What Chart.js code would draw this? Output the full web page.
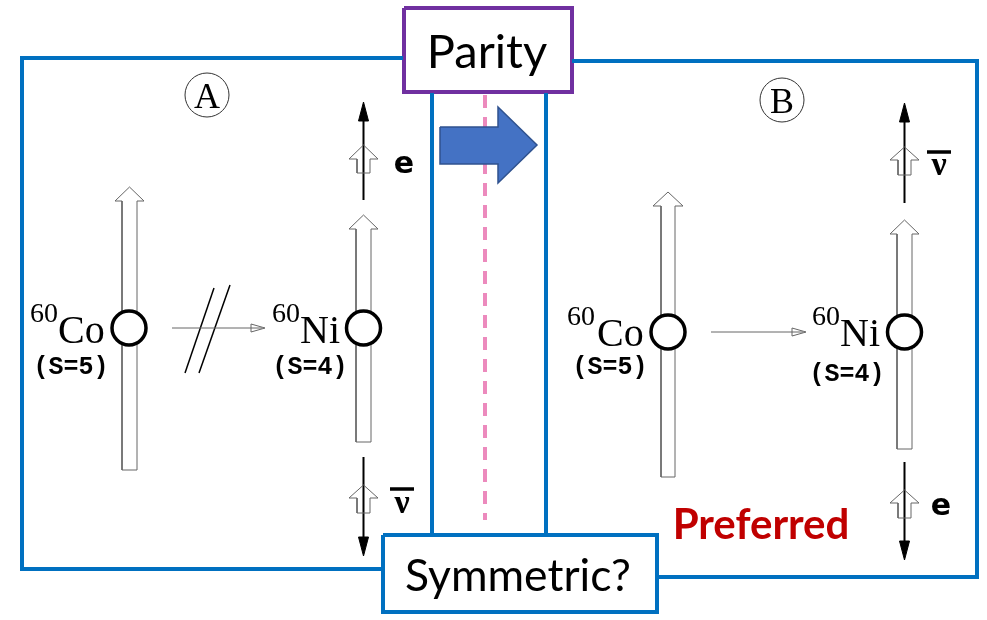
<!DOCTYPE html>
<html>
<head>
<meta charset="utf-8">
<script src="https://cdn.jsdelivr.net/npm/chart.js@4.4.1/dist/chart.umd.min.js"></script>
<style>
  html, body { margin: 0; padding: 0; background: #fff; }
  #wrap { width: 987px; height: 620px; position: relative; }
</style>
</head>
<body>
<div id="wrap"><canvas id="diagram"></canvas></div>
<script>
// Frame lines (x, y in picture units, y grows downward)
const leftFrame = [[403, 58], [22, 58], [22, 569], [383, 569]];
const rightFrame = [[572, 61], [977, 61], [977, 577], [657, 577]];
const stripLeft = [[432, 93], [432, 535]];
const stripRight = [[546, 93], [546, 535]];
const parityBox = [[404, 8], [572, 8], [572, 92], [404, 92], [404, 8]];
const symmetricBox = [[383, 535], [657, 535], [657, 612], [383, 612], [383, 535]];
const mirrorLine = [[485, 95], [485, 520]];
const bigArrow = [[440, 127], [498, 127], [498, 107], [537, 145], [498, 183], [498, 164], [440, 164], [440, 127]];

// Hollow spin arrows
const spinCoA = [[122, 470], [137, 470], [137, 201], [144, 201], [129.5, 187], [115, 201], [122, 201], [122, 470]];
const spinNiA = [[356, 442], [371, 442], [371, 229], [378, 229], [363.5, 215], [349, 229], [356, 229], [356, 442]];
const spinCoB = [[661, 477], [675, 477], [675, 206], [683, 206], [668, 192], [653, 206], [661, 206], [661, 477]];
const spinNiB = [[897, 449], [912, 449], [912, 234], [919, 234], [904.5, 220], [890, 234], [897, 234], [897, 449]];
const smallEA = [[357, 173], [370, 173], [370, 159], [378, 159], [363.5, 145], [349, 159], [357, 159], [357, 173]];
const smallNuA = [[357, 513], [370, 513], [370, 498], [378, 498], [363.5, 485], [349, 498], [357, 498], [357, 513]];
const smallNuB = [[898, 175], [911, 175], [911, 160], [919, 160], [904.5, 147], [890, 160], [898, 160], [898, 175]];
const smallEB = [[898, 518], [911, 518], [911, 503], [919, 503], [904.5, 490], [890, 503], [898, 503], [898, 518]];

// Momentum lines and solid heads
const momUpA = [[363.5, 200], [363.5, 115]];
const headUpA = [[358.5, 121], [363.5, 102], [368.5, 121], [358.5, 121]];
const momDownA = [[363.5, 457], [363.5, 542]];
const headDownA = [[358.5, 537], [363.5, 556], [368.5, 537], [358.5, 537]];
const momUpB = [[904.5, 203], [904.5, 116]];
const headUpB = [[899.5, 122], [904.5, 103], [909.5, 122], [899.5, 122]];
const momDownB = [[904.5, 462], [904.5, 546]];
const headDownB = [[899.5, 541], [904.5, 560], [909.5, 541], [899.5, 541]];

// Decay arrows
const decayA = [[172, 328], [262, 328]];
const decayHeadA = [[251, 324], [265, 328], [251, 332], [251, 324]];
const decayB = [[711, 332], [803, 332]];
const decayHeadB = [[792, 328], [806, 332], [792, 336], [792, 328]];
const slash1 = [[185, 373], [214, 288]];
const slash2 = [[199, 373], [230, 285]];
const nuBarA = [[390, 489], [414, 489]];
const nuBarB = [[927, 152], [951, 152]];

// Nuclei and panel markers
const nuclei = [[129, 328], [363.5, 328], [668, 332], [904.5, 332]];
const panelMarks = [[207, 95], [782, 100]];

// Text labels: [text, x, y, font, colour, align, maxWidth]
const labels = [
  ['A', 207, 108, '36px "Liberation Serif"', '#000', 'center'],
  ['B', 782, 113, '36px "Liberation Serif"', '#000', 'center'],
  ['60', 30, 322, '28px "Liberation Serif"', '#000', 'left'],
  ['Co', 58, 343, '40px "Liberation Serif"', '#000', 'left'],
  ['(S=5)', 71, 374, 'bold 25px "Liberation Mono"', '#000', 'center'],
  ['60', 272, 322, '28px "Liberation Serif"', '#000', 'left'],
  ['Ni', 300, 343, '40px "Liberation Serif"', '#000', 'left'],
  ['(S=4)', 310, 374, 'bold 25px "Liberation Mono"', '#000', 'center'],
  ['e', 404, 173, 'bold 30px "DejaVu Sans"', '#000', 'center'],
  ['ν', 402, 513, 'bold 34px "Liberation Serif"', '#000', 'center'],
  ['60', 567, 325, '28px "Liberation Serif"', '#000', 'left'],
  ['Co', 597, 346, '40px "Liberation Serif"', '#000', 'left'],
  ['(S=5)', 610, 374, 'bold 25px "Liberation Mono"', '#000', 'center'],
  ['60', 812, 325, '28px "Liberation Serif"', '#000', 'left'],
  ['Ni', 840, 346, '40px "Liberation Serif"', '#000', 'left'],
  ['(S=4)', 847, 381, 'bold 25px "Liberation Mono"', '#000', 'center'],
  ['ν', 939, 175, 'bold 34px "Liberation Serif"', '#000', 'center'],
  ['e', 941, 515, 'bold 30px "DejaVu Sans"', '#000', 'center'],
  ['Preferred', 761, 539, 'bold 42px Lato', '#C00000', 'center', 184],
  ['Parity', 487, 68, '47px Lato', '#000', 'center', 123],
  ['Symmetric?', 518, 591, '45px Lato', '#000', 'center', 226]
];

const BLUE = '#0070C0';
const GREY = '#666';

function pts(list) {
  return list.map(([x, y]) => ({x: x, y: y}));
}

function path(list, color, width, extra) {
  return Object.assign({
    data: pts(list),
    showLine: true,
    pointRadius: 0,
    borderColor: color,
    borderWidth: width,
    borderJoinStyle: 'miter',
    fill: false,
    clip: false,
    order: 2
  }, extra || {});
}

function solid(list, color) {
  return path(list, color, 1, {fill: 'shape', backgroundColor: color});
}

const datasets = [
  {
    data: pts(nuclei),
    pointRadius: 17,
    pointBorderWidth: 3.5,
    pointBorderColor: '#000',
    pointBackgroundColor: '#fff',
    clip: false,
    order: 0
  },
  {
    data: pts(panelMarks),
    pointRadius: 22,
    pointBorderWidth: 1,
    pointBorderColor: '#333',
    pointBackgroundColor: 'rgba(0,0,0,0)',
    clip: false,
    order: 0
  },
  path(leftFrame, BLUE, 4),
  path(rightFrame, BLUE, 4),
  path(stripLeft, BLUE, 4),
  path(stripRight, BLUE, 4),
  path(parityBox, '#7030A0', 4),
  path(symmetricBox, BLUE, 4),
  path(mirrorLine, '#EC8ABD', 4, {borderDash: [13, 9], order: 3}),
  path(bigArrow, '#2F528F', 1.5, {fill: 'shape', backgroundColor: '#4472C4', order: 1}),
  path(spinCoA, GREY, 1),
  path(spinNiA, GREY, 1),
  path(spinCoB, GREY, 1),
  path(spinNiB, GREY, 1),
  path(smallEA, GREY, 1),
  path(smallNuA, GREY, 1),
  path(smallNuB, GREY, 1),
  path(smallEB, GREY, 1),
  path(momUpA, '#000', 2),
  path(momDownA, '#000', 2),
  path(momUpB, '#000', 2),
  path(momDownB, '#000', 2),
  solid(headUpA, '#000'),
  solid(headDownA, '#000'),
  solid(headUpB, '#000'),
  solid(headDownB, '#000'),
  path(decayA, GREY, 1),
  path(decayHeadA, GREY, 1),
  path(decayB, GREY, 1),
  path(decayHeadB, GREY, 1),
  path(slash1, '#000', 1.5),
  path(slash2, '#000', 1.5),
  path(nuBarA, '#000', 3.5),
  path(nuBarB, '#000', 3.5)
];

const textPlugin = {
  id: 'diagramText',
  afterDatasetsDraw(chart) {
    const c = chart.ctx;
    const sx = chart.scales.x, sy = chart.scales.y;
    c.save();
    c.textBaseline = 'alphabetic';
    labels.forEach(([t, x, y, font, color, align, maxW]) => {
      c.font = font;
      c.fillStyle = color;
      c.textAlign = align;
      const px = sx.getPixelForValue(x), py = sy.getPixelForValue(y);
      if (maxW) c.fillText(t, px, py, maxW); else c.fillText(t, px, py);
    });
    c.restore();
  }
};

const bg = {
  id: 'bg',
  beforeDraw(chart) {
    const c = chart.ctx;
    c.save();
    c.fillStyle = '#fff';
    c.fillRect(0, 0, chart.width, chart.height);
    c.restore();
  }
};

new Chart(document.getElementById('diagram'), {
  type: 'scatter',
  data: {datasets: datasets},
  options: {
    responsive: true,
    maintainAspectRatio: false,
    animation: false,
    layout: {padding: 0, autoPadding: false},
    elements: {line: {tension: 0}},
    plugins: {
      legend: {display: false},
      tooltip: {enabled: false}
    },
    events: [],
    scales: {
      x: {type: 'linear', min: 0, max: 987, display: false},
      y: {type: 'linear', min: 0, max: 620, reverse: true, display: false}
    }
  },
  plugins: [bg, textPlugin]
});
</script>
</body>
</html>
